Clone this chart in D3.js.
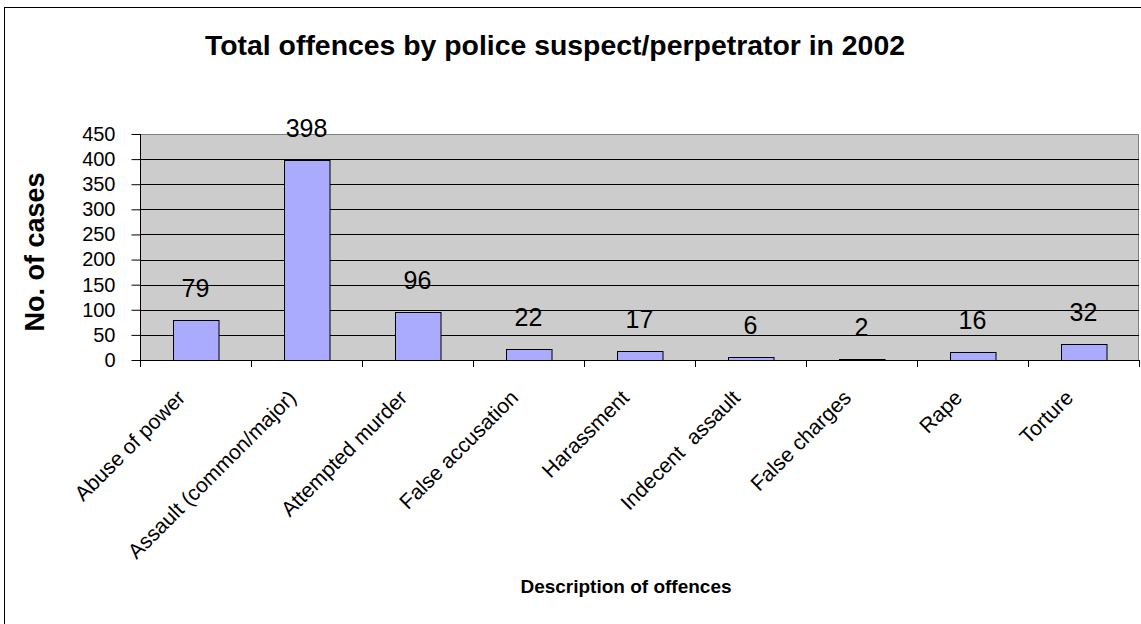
<!DOCTYPE html>
<html>
<head>
<meta charset="utf-8">
<script src="https://cdn.jsdelivr.net/npm/d3@7"></script>
<style>
  body { margin: 0; background: #fff; }
  svg { display: block; font-family: "Liberation Sans", Arial, sans-serif; }
</style>
</head>
<body>
<svg id="chart" width="1141" height="624"></svg>
<script>
let categories = ["Abuse of power", "Assault (common/major)", "Attempted murder",
                  "False accusation", "Harassment", "Indecent  assault",
                  "False charges", "Rape", "Torture"],
    cases = [79, 398, 96, 22, 17, 6, 2, 16, 32],
    y_ticks = [0, 50, 100, 150, 200, 250, 300, 350, 400, 450];

let width = 1141,
    height = 624,
    plot = {left: 140, right: 1139, top: 134, bottom: 360};

let svg = d3.select("#chart");

// outer chart border (right/bottom run off the picture)
svg.append("rect")
  .attr("x", 4.5).attr("y", 7.5)
  .attr("width", 1160).attr("height", 640)
  .attr("fill", "#fff").attr("stroke", "#000");

let x = d3.scaleBand()
  .domain(categories)
  .range([plot.left, plot.right])
  .paddingInner(0.59)
  .paddingOuter(0.295);

let y = d3.scaleLinear()
  .domain([0, 450])
  .range([plot.bottom, plot.top]);

// plot area
svg.append("rect")
  .attr("x", plot.left).attr("y", plot.top)
  .attr("width", plot.right - plot.left)
  .attr("height", plot.bottom - plot.top)
  .attr("fill", "#cccccc");

svg.append("path")
  .attr("d", `M${plot.left},${plot.top + 0.5}H${plot.right - 0.5}V${plot.bottom}`)
  .attr("fill", "none").attr("stroke", "#808080");

// gridlines
svg.append("g")
  .selectAll("line")
  .data(y_ticks.filter(d => d > 0 && d < 450))
  .join("line")
  .attr("x1", plot.left).attr("x2", plot.right)
  .attr("y1", d => Math.round(y(d)) + 0.5)
  .attr("y2", d => Math.round(y(d)) + 0.5)
  .attr("stroke", "#000");

// bars
svg.append("g")
  .selectAll("rect")
  .data(cases)
  .join("rect")
  .attr("x", (d, i) => Math.round(x(categories[i])) + 0.5)
  .attr("y", d => Math.round(y(d)) + 0.5)
  .attr("width", x.bandwidth())
  .attr("height", d => plot.bottom - Math.round(y(d)))
  .attr("fill", "#aaaaff")
  .attr("stroke", "#000");

// value labels
svg.append("g")
  .selectAll("text")
  .data(cases)
  .join("text")
  .attr("x", (d, i) => x(categories[i]) + x.bandwidth() / 2)
  .attr("y", d => y(d) - 23)
  .attr("text-anchor", "middle")
  .attr("font-size", 25)
  .text(d => d);

// y axis
let y_axis = d3.axisLeft(y)
  .tickValues(y_ticks)
  .tickSize(9)
  .tickPadding(16);

svg.append("g")
  .attr("transform", `translate(${plot.left + 0.5},0)`)
  .call(y_axis)
  .call(g => g.select(".domain").attr("stroke", "#000").attr("d", `M0,${plot.top}V${plot.bottom}`))
  .call(g => g.selectAll(".tick text").attr("font-size", 20).attr("fill", "#000")
               .attr("font-family", "Liberation Sans, Arial, sans-serif"));

// x axis: ticks at band boundaries
let step = x.step();
svg.append("g")
  .selectAll("line")
  .data(d3.range(categories.length + 1))
  .join("line")
  .attr("x1", i => Math.round(plot.left + i * step) + 0.5)
  .attr("x2", i => Math.round(plot.left + i * step) + 0.5)
  .attr("y1", plot.bottom).attr("y2", plot.bottom + 7)
  .attr("stroke", "#000");

svg.append("line")
  .attr("x1", plot.left).attr("x2", plot.right)
  .attr("y1", plot.bottom + 0.5).attr("y2", plot.bottom + 0.5)
  .attr("stroke", "#000");

svg.append("g")
  .selectAll("text")
  .data(categories)
  .join("text")
  .attr("transform", d => `translate(${x(d) + x.bandwidth() / 2 - 9},${plot.bottom + 39}) rotate(-45)`)
  .attr("text-anchor", "end")
  .attr("font-size", 21)
  .attr("xml:space", "preserve")
  .text(d => d);

// titles
svg.append("text")
  .attr("x", 555).attr("y", 55)
  .attr("text-anchor", "middle")
  .attr("font-size", 28.4).attr("font-weight", "bold")
  .text("Total offences by police suspect/perpetrator in 2002");

svg.append("text")
  .attr("transform", "translate(44,252) rotate(-90)")
  .attr("text-anchor", "middle")
  .attr("font-size", 27).attr("font-weight", "bold")
  .text("No. of cases");

svg.append("text")
  .attr("x", 626).attr("y", 593)
  .attr("text-anchor", "middle")
  .attr("font-size", 19).attr("font-weight", "bold")
  .text("Description of offences");
</script>
</body>
</html>
